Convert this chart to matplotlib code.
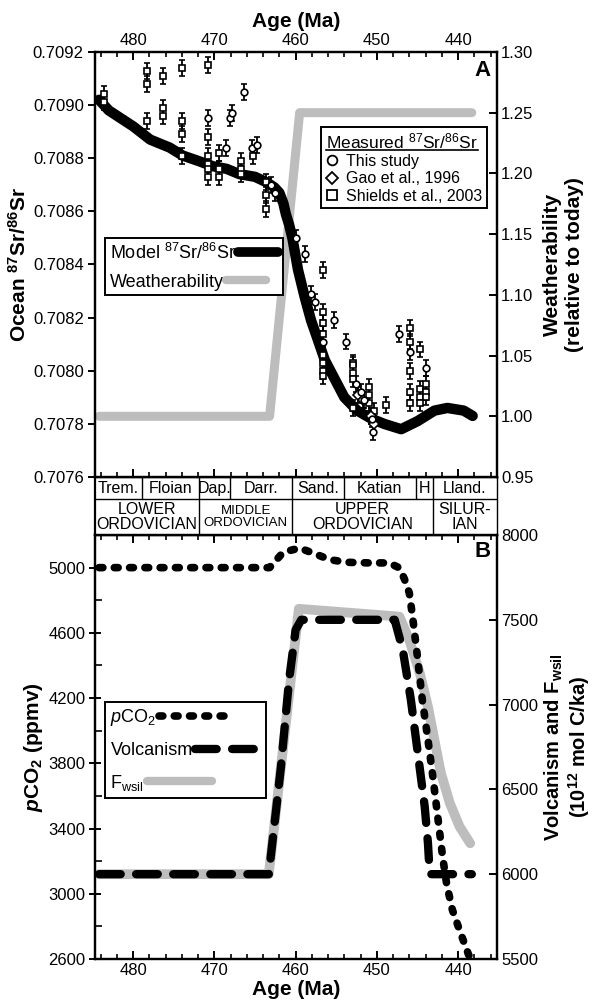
import matplotlib
matplotlib.use('Agg')
import matplotlib.pyplot as plt
from matplotlib.lines import Line2D
from matplotlib.ticker import MultipleLocator, FormatStrFormatter
from matplotlib.transforms import IdentityTransform

plt.rcParams['font.family'] = ['Liberation Sans', 'DejaVu Sans']
plt.rcParams['mathtext.fontset'] = 'custom'
plt.rcParams['mathtext.rm'] = 'Liberation Sans'
plt.rcParams['mathtext.it'] = 'Liberation Sans:italic'
plt.rcParams['mathtext.bf'] = 'Liberation Sans:bold'
plt.rcParams['mathtext.bfit'] = 'Liberation Sans:italic:bold'

# ---- panel A: Sr isotopes --------------------------------------------------
sr_model_age = [484.2, 483.0, 481.5, 480.0, 477.9, 475.5, 473.9, 472.0, 470.2, 468.5,
                466.9, 465.0, 463.6, 462.6, 462.0, 461.5, 461.2, 460.8, 460.4, 459.7,
                458.9, 458.1, 457.3, 456.4, 455.2, 454.0, 452.4, 450.7, 449.1, 447.0,
                445.0, 442.9, 441.3, 439.3, 438.2]
sr_model = [0.70902, 0.70898, 0.70895, 0.70892, 0.70887, 0.70884, 0.70881, 0.70879, 0.70877, 0.70876,
            0.70874, 0.70873, 0.70871, 0.70869, 0.70867, 0.70863, 0.70859, 0.70855, 0.70850, 0.70838,
            0.70828, 0.70819, 0.70812, 0.70804, 0.70797, 0.70790, 0.70785, 0.70782, 0.70780, 0.70778,
            0.70781, 0.70785, 0.70786, 0.70785, 0.70783]

weather_age = [484.2, 463.2, 459.5, 438.3]
weather = [1.0, 1.0, 1.25, 1.25]

# this study (circles)
study_age = [470.8, 468.6, 468.1, 467.8, 466.3, 465.4, 464.8, 463.0, 462.5, 460.0,
             458.9, 458.1, 457.6, 456.6, 455.3, 453.8, 452.6, 452.0, 451.6, 450.6,
             450.5, 447.3, 445.9, 443.9]
study_sr = [0.70895, 0.70884, 0.70895, 0.70897, 0.70905, 0.70884, 0.70885, 0.70870, 0.70867, 0.70850,
            0.70844, 0.70829, 0.70826, 0.70811, 0.70819, 0.70811, 0.70795, 0.70792, 0.70789, 0.70782,
            0.70777, 0.70814, 0.70807, 0.70801]

# Gao et al., 1996 (diamonds)
gao_age = [452.3, 451.7, 450.7, 450.3]
gao_sr = [0.70791, 0.70789, 0.70783, 0.70780]

# Shields et al., 2003 (squares)
shields_age = [483.6, 483.6,
               478.3, 478.3, 478.3,
               476.3, 476.3, 476.3,
               474.0, 474.0, 474.0, 474.0,
               470.8, 470.8, 470.8, 470.8, 470.8, 470.8,
               469.4, 469.4, 469.4,
               466.7, 466.7, 466.7,
               465.3,
               463.6, 463.6, 463.6,
               456.6, 456.6, 456.6, 456.6, 456.6, 456.6, 456.6, 456.6,
               452.9, 452.9, 452.9, 452.9, 452.9,
               451.0, 451.0, 451.0, 450.4,
               448.9,
               445.9, 445.9, 445.9, 445.9, 445.9,
               444.7, 444.7, 444.7, 444.7,
               443.9, 443.9, 443.9]
shields_sr = [0.70904, 0.70901,
              0.70913, 0.70908, 0.70894,
              0.70911, 0.70899, 0.70896,
              0.70914, 0.70894, 0.70889, 0.70881,
              0.70915, 0.70888, 0.70881, 0.70878, 0.70876, 0.70873,
              0.70882, 0.70876, 0.70873,
              0.70879, 0.70876, 0.70874,
              0.70881,
              0.70871, 0.70866, 0.70861,
              0.70838, 0.70822, 0.70818, 0.70814, 0.70806, 0.70803, 0.70800, 0.70798,
              0.70803, 0.70802, 0.70799, 0.70797, 0.70786,
              0.70794, 0.70791, 0.70788, 0.70785,
              0.70787,
              0.70816, 0.70811, 0.70800, 0.70792, 0.70788,
              0.70808, 0.70793, 0.70790, 0.70788,
              0.70795, 0.70792, 0.70790]
SR_ERR = 0.00003

# ---- timescale -------------------------------------------------------------
stage_edges = [484.7, 478.9, 471.9, 468.1, 460.4, 454.1, 445.2, 443.1, 435.2]
stage_names = ['Trem.', 'Floian', 'Dap.', 'Darr.', 'Sand.', 'Katian', 'H', 'Lland.']
series_edges = [484.7, 471.9, 460.4, 443.1, 435.2]
series_names = ['LOWER\nORDOVICIAN', 'MIDDLE\nORDOVICIAN', 'UPPER\nORDOVICIAN', 'SILUR-\nIAN']

# ---- panel B: carbon cycle -------------------------------------------------
pco2_age = [484.2, 463.2, 461.6, 461.1, 459.5, 457.9, 455.8, 453.8, 451.0, 448.5,
            447.2, 446.6, 446.0, 445.6, 445.0, 444.4, 443.7, 443.1, 442.5, 441.9,
            441.4, 440.7, 439.7, 438.7, 438.3]
pco2 = [5000, 5000, 5090, 5100, 5120, 5090, 5049, 5033, 5029, 5029,
        4998, 4930, 4845, 4701, 4456, 4190, 3944, 3719, 3473, 3228,
        3060, 2902, 2761, 2626, 2590]

volc_age = [484.2, 463.3, 462.4, 461.8, 460.8, 460.0, 459.3, 447.8, 446.8, 445.8,
            445.0, 444.1, 443.7, 443.5, 443.4, 438.3]
volc = [6000, 6000, 6379, 6634, 7145, 7440, 7500, 7500, 7322, 7027,
        6732, 6398, 6182, 6015, 6000, 6000]

fwsil_age = [484.2, 463.3, 459.6, 447.5, 447.2, 446.0, 444.7, 443.7, 442.9, 442.1,
             441.0, 439.8, 438.5]
fwsil = [6000, 6000, 7565, 7520, 7518, 7381, 7185, 6988, 6791, 6595,
         6418, 6280, 6182]

GREY = '#bdbdbd'
AGE_LIM = (484.7, 435.2)


def style_ticks(ax):
    for side in ax.spines.values():
        side.set_linewidth(1.6)
    ax.tick_params(which='major', length=6, width=1.4, labelsize=12, pad=3)
    ax.tick_params(which='minor', length=3.5, width=1.2)


def point_style(marker):
    return dict(fmt=marker, ms=4.8, mfc='white', mec='black', mew=1.2, ecolor='black',
                elinewidth=1.3, capsize=2.4, capthick=1.3, zorder=5)


def left_align(leg):
    # handles after text, text flush left (as in the hand-made legends)
    for col in leg._legend_handle_box.get_children():
        col.align = 'left'


fig = plt.figure(figsize=(5.94, 10.07), dpi=100)
ax_a = fig.add_axes([0.1599, 0.5263, 0.6768, 0.4221])
ax_ts = fig.add_axes([0.1599, 0.4687, 0.6768, 0.0576])
ax_b = fig.add_axes([0.1599, 0.0477, 0.6768, 0.4210])

# panel A
ax_a2 = ax_a.twinx()
ax_a.set_zorder(ax_a2.get_zorder() + 1)
ax_a.patch.set_visible(False)

ax_a2.plot(weather_age, weather, color=GREY, lw=6.5, solid_capstyle='round')
ax_a.plot(sr_model_age, sr_model, color='black', lw=7.5, solid_capstyle='round', zorder=2)
ax_a.errorbar(shields_age, shields_sr, yerr=SR_ERR, **point_style('s'))
ax_a.errorbar(gao_age, gao_sr, yerr=SR_ERR, **point_style('D'))
ax_a.errorbar(study_age, study_sr, yerr=SR_ERR, **point_style('o'))

ax_a.set_xlim(*AGE_LIM)
ax_a.set_ylim(0.7076, 0.7092)
ax_a2.set_ylim(0.95, 1.30)
ax_a.set_yticks([0.7076, 0.7078, 0.7080, 0.7082, 0.7084, 0.7086, 0.7088, 0.7090, 0.7092])
ax_a.yaxis.set_major_formatter(FormatStrFormatter('%.4f'))
ax_a2.set_yticks([0.95, 1.00, 1.05, 1.10, 1.15, 1.20, 1.25, 1.30])
ax_a2.yaxis.set_major_formatter(FormatStrFormatter('%.2f'))
ax_a.xaxis.set_major_locator(MultipleLocator(10))
ax_a.xaxis.set_minor_locator(MultipleLocator(2))
style_ticks(ax_a)
style_ticks(ax_a2)
ax_a.tick_params(axis='x', which='both', direction='in', top=True, bottom=True,
                 labeltop=True, labelbottom=False)
ax_a.tick_params(axis='y', direction='out', length=5)
ax_a2.tick_params(axis='y', direction='in')
ax_a.xaxis.set_label_position('top')
ax_a.set_xlabel('Age (Ma)', fontsize=15, fontweight='bold', labelpad=4)
ax_a.set_ylabel(r'Ocean $^{\mathbf{87}}$Sr/$^{\mathbf{86}}$Sr', fontsize=15, fontweight='bold', labelpad=2)
ax_a2.set_ylabel('Weatherability\n(relative to today)', fontsize=15, fontweight='bold', labelpad=7)
ax_a.text(0.985, 0.957, 'A', transform=ax_a.transAxes, ha='right', va='center',
          fontsize=16, fontweight='bold')

leg1 = ax_a.legend(
    handles=[Line2D([], [], color='black', lw=7, solid_capstyle='round'),
             Line2D([], [], color=GREY, lw=6, solid_capstyle='round')],
    labels=[r'Model $^{87}$Sr/$^{86}$Sr', 'Weatherability'],
    loc='upper left', bbox_to_anchor=(0.025, 0.562), borderaxespad=0, markerfirst=False,
    fontsize=13, fancybox=False, edgecolor='black', framealpha=1, handlelength=2.2,
    handletextpad=0.15, borderpad=0.25, labelspacing=0.6)
leg1.get_frame().set_linewidth(1.4)
left_align(leg1)
ax_a.add_artist(leg1)

marker_kw = dict(ls='none', mfc='white', mec='black', mew=1.3, ms=7)
leg2 = ax_a.legend(
    handles=[Line2D([], [], marker='o', **marker_kw),
             Line2D([], [], marker='D', **dict(marker_kw, ms=6.5)),
             Line2D([], [], marker='s', **dict(marker_kw, ms=6.5))],
    labels=['This study', 'Gao et al., 1996', 'Shields et al., 2003'],
    title=r'Measured $^{87}$Sr/$^{86}$Sr', title_fontsize=12.5, alignment='left',
    loc='upper right', bbox_to_anchor=(0.975, 0.824), borderaxespad=0,
    fontsize=11.5, fancybox=False, edgecolor='black', framealpha=1, handlelength=0.8,
    handletextpad=0.45, borderpad=0.3, labelspacing=0.15)
leg2.get_frame().set_linewidth(1.4)

# timescale strip
ax_ts.set_xlim(*AGE_LIM)
ax_ts.set_ylim(0, 1)
ax_ts.set_xticks([])
ax_ts.set_yticks([])
for name, side in ax_ts.spines.items():
    side.set_linewidth(1.6 if name == 'left' else 1.0)
ROW = 0.62
ax_ts.axhline(ROW, color='black', lw=1.0)
ax_ts.vlines(stage_edges[1:-1], ROW, 1, color='black', lw=1.0)
ax_ts.vlines(series_edges[1:-1], 0, ROW, color='black', lw=1.0)
for lo, hi, name in zip(stage_edges[:-1], stage_edges[1:], stage_names):
    ax_ts.text((lo + hi) / 2, (ROW + 1) / 2, name, ha='center', va='center', fontsize=11.5)
for lo, hi, name in zip(series_edges[:-1], series_edges[1:], series_names):
    size = 9.5 if name.startswith('MIDDLE') else 11.5
    ax_ts.text((lo + hi) / 2, ROW / 2, name, ha='center', va='center', fontsize=size,
               linespacing=0.95)

# panel B
ax_b2 = ax_b.twinx()
ax_b.plot(pco2_age, pco2, color='black', lw=5.5, ls=(0, (0.5, 1.5)), dash_capstyle='round')
ax_b2.plot(fwsil_age, fwsil, color=GREY, lw=7, solid_capstyle='round')
ax_b2.plot(volc_age, volc, color='black', lw=6, ls=(0, (2.6, 1.85)), dash_capstyle='round')

ax_b.set_xlim(*AGE_LIM)
ax_b.set_ylim(2600, 5200)
ax_b2.set_ylim(5500, 8000)
ax_b.set_yticks(list(range(2600, 5001, 400)))
ax_b.set_yticks(list(range(2800, 5000, 400)), minor=True)
ax_b2.set_yticks(list(range(5500, 8001, 500)))
ax_b.xaxis.set_major_locator(MultipleLocator(10))
ax_b.xaxis.set_minor_locator(MultipleLocator(2))
style_ticks(ax_b)
style_ticks(ax_b2)
ax_b.tick_params(axis='x', which='both', direction='in', top=True, bottom=True)
ax_b.tick_params(axis='y', which='major', direction='inout', length=8)
ax_b.tick_params(axis='y', which='minor', direction='in', length=5)
ax_b2.tick_params(axis='y', direction='in')
ax_b.set_xlabel('Age (Ma)', fontsize=15, fontweight='bold', labelpad=1)
ax_b.set_ylabel(r'$\mathbfit{p}$CO$_{\mathbf{2}}$ (ppmv)', fontsize=15, fontweight='bold', labelpad=2)
ax_b2.set_ylabel('Volcanism and F$_{\\mathbf{wsil}}$\n(10$^{\\mathbf{12}}$ mol C/ka)',
                 fontsize=14.5, fontweight='bold', labelpad=3, linespacing=1.05)
ax_b.text(0.985, 0.961, 'B', transform=ax_b.transAxes, ha='right', va='center',
          fontsize=16, fontweight='bold')

leg3 = ax_b.legend(
    handles=[Line2D([], [], color='black', lw=5.5, ls=(0, (0.5, 1.5)), dash_capstyle='round'),
             Line2D([], [], color='black', lw=6, ls=(0, (2.6, 1.85)), dash_capstyle='round'),
             Line2D([], [], color=GREY, lw=6, solid_capstyle='round')],
    labels=[r'$p$CO$_2$', 'Volcanism', r'F$_{\rm wsil}$'],
    loc='upper left', bbox_to_anchor=(0.025, 0.606), borderaxespad=0, markerfirst=False,
    fontsize=13, fancybox=False, edgecolor='black', framealpha=1, handlelength=3.6,
    handletextpad=0.15, borderpad=0.3, labelspacing=0.75)
leg3.get_frame().set_linewidth(1.4)
left_align(leg3)
ax_b.set_zorder(ax_b2.get_zorder() + 1)
ax_b.patch.set_visible(False)

# underline the measured-legend title
fig.canvas.draw()
bb = leg2.get_title().get_window_extent(fig.canvas.get_renderer())
fig.add_artist(Line2D([bb.x0, bb.x1], [bb.y0 + 1, bb.y0 + 1], transform=IdentityTransform(),
                      color='black', lw=1.2))

fig.savefig('out.png', dpi=100)
